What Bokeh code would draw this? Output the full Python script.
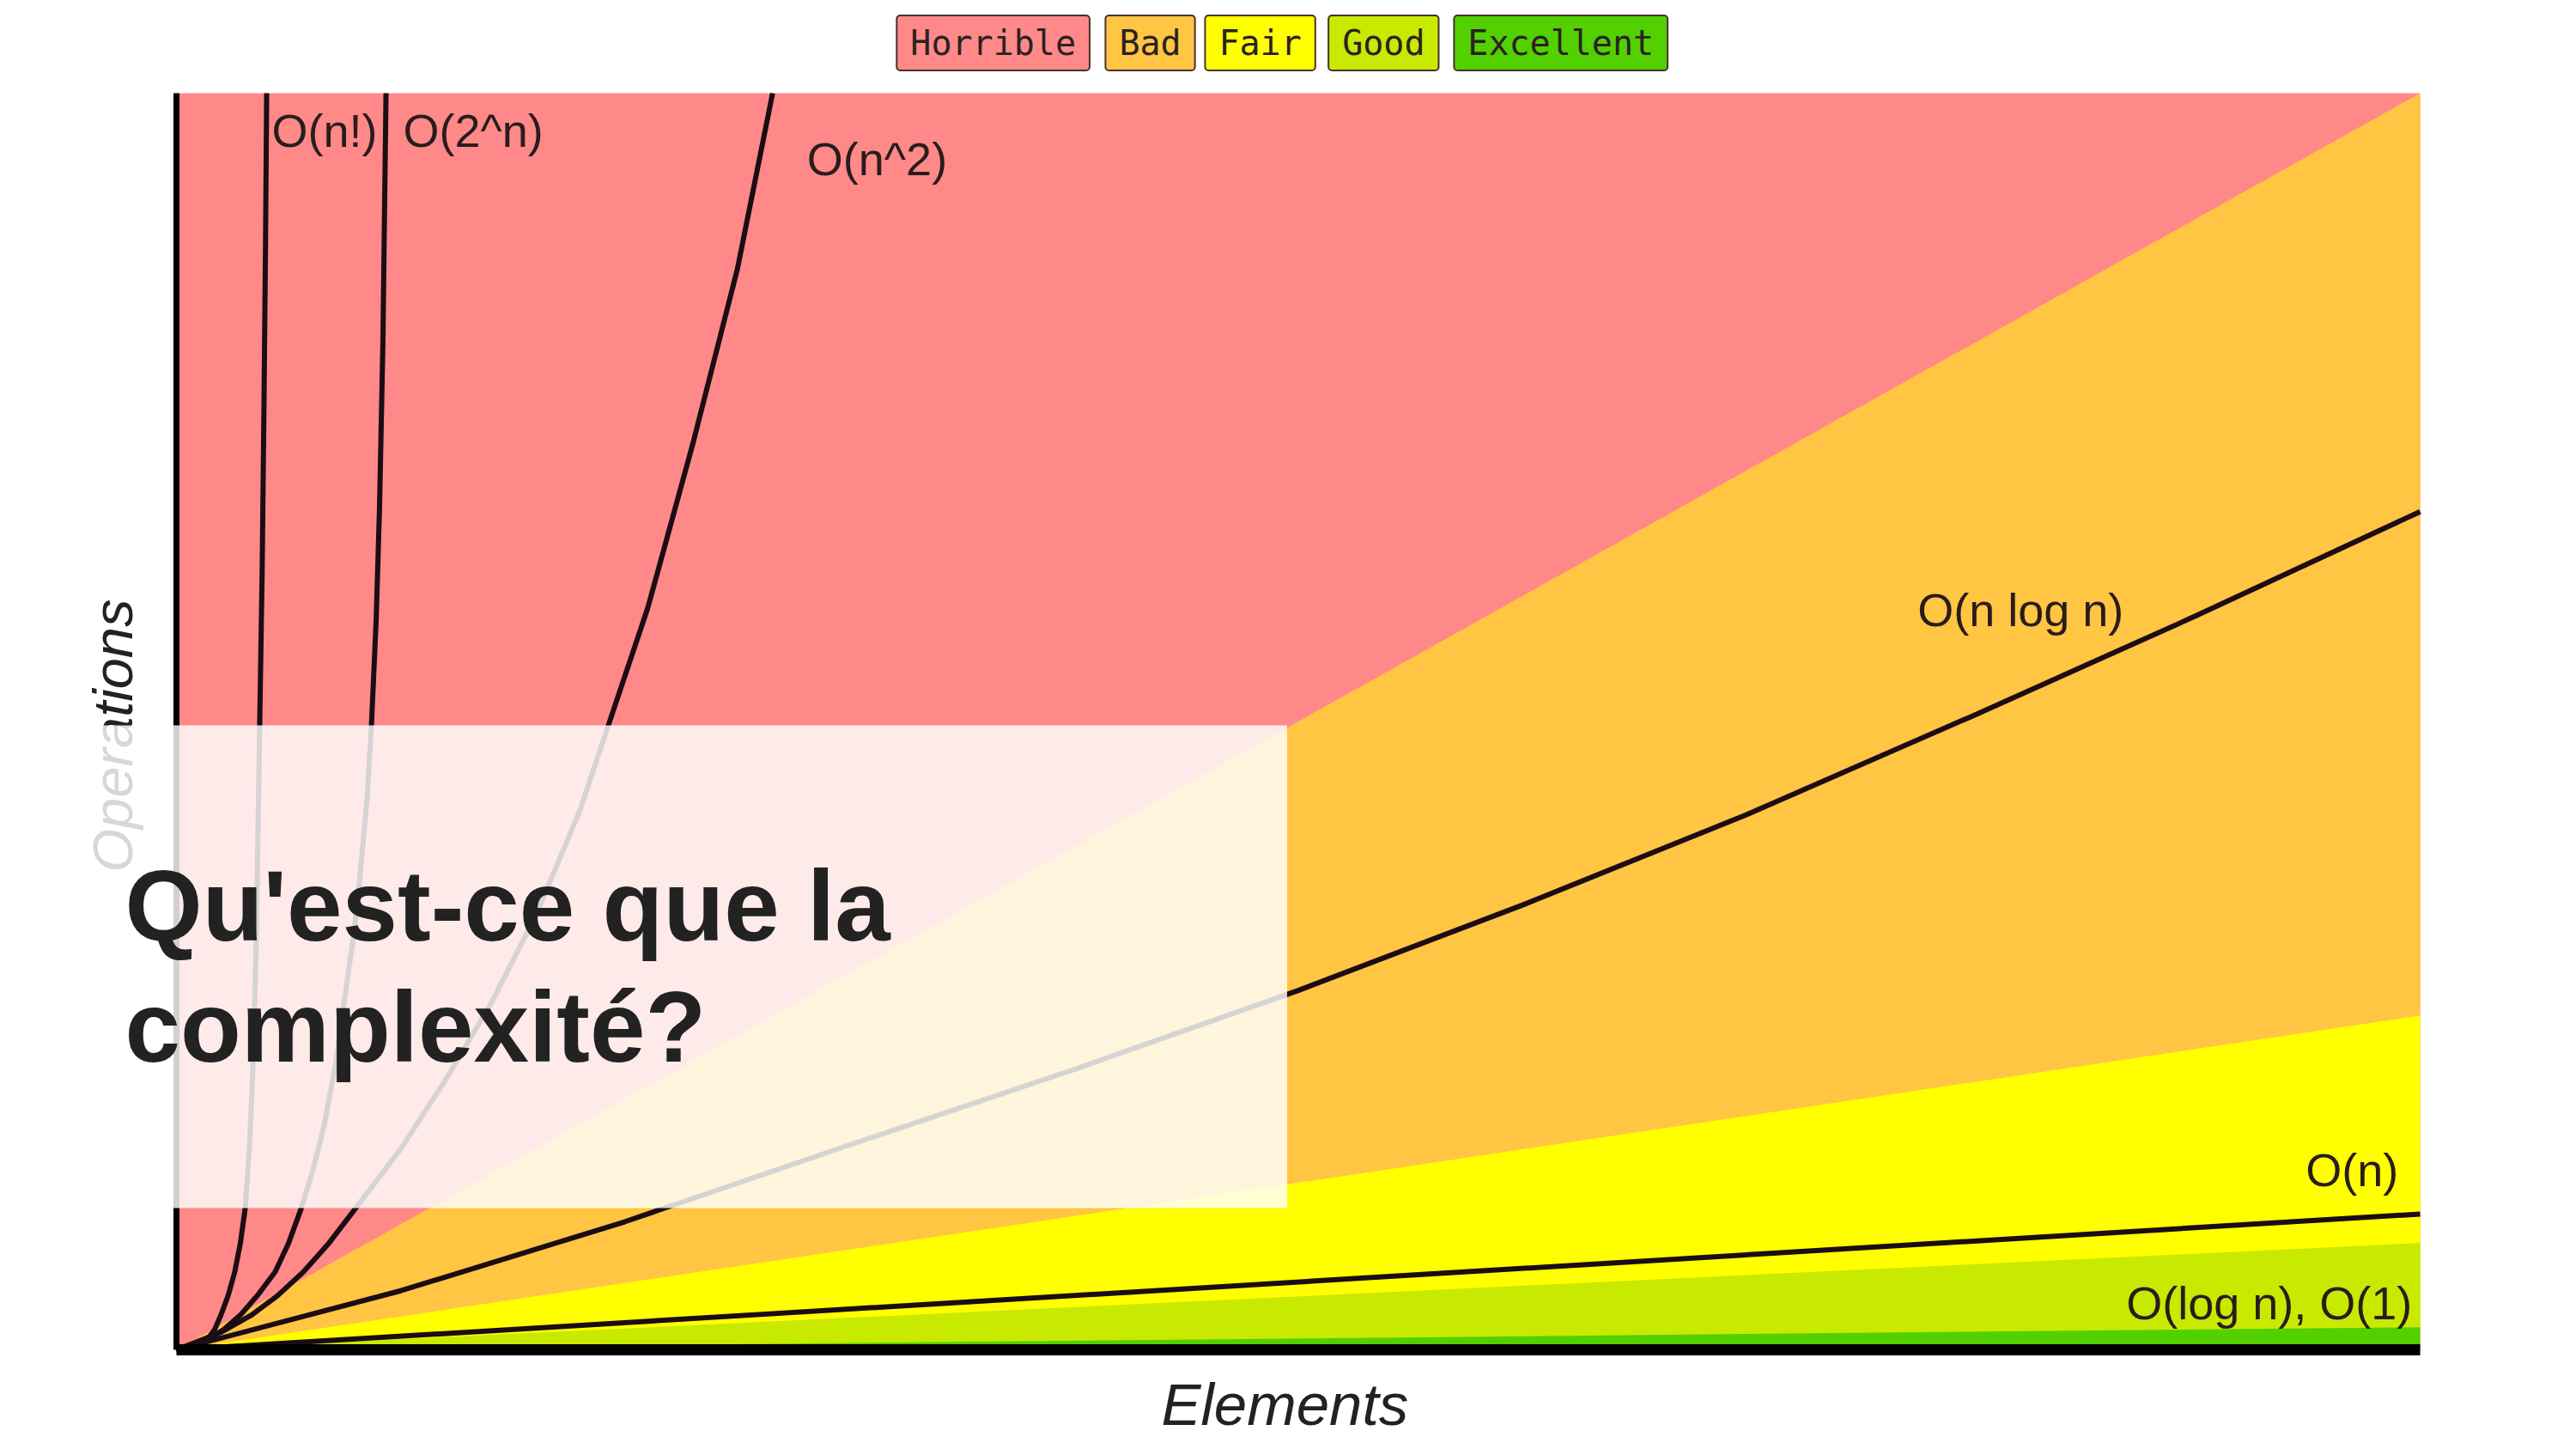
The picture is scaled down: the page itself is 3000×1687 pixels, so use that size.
import math
from bokeh.plotting import figure
from bokeh.models import Label, BoxAnnotation, Range1d
from bokeh.core.properties import value
from bokeh.embed import file_html
from bokeh.resources import INLINE

# ---------------- data (Elements 0..100, Operations 0..100) ----------------
region_x = [0, 100]
region_floor = [0, 0]
horrible_top = [100, 100]
bad_top = [0, 100]
fair_top = [0, 26.6]
good_top = [0, 8.5]
excellent_top = [0, 1.8]

factorial_x = [0, 0.5, 1.0, 1.34, 1.7, 1.99, 2.3, 2.6, 2.85, 3.06, 3.25, 3.4, 3.55, 3.71, 3.82, 3.9, 3.97, 4.02]
factorial_y = [0, 0.15, 0.4, 0.75, 1.6, 2.8, 4.3, 6.2, 8.5, 11.2, 16, 22, 32, 49.7, 62, 75, 88, 100]

exponential_x = [0, 0.6, 1.34, 2.1, 2.87, 3.6, 4.4, 5.0, 5.55, 6.1, 6.6, 7.1, 7.5, 7.9, 8.2, 8.5, 8.69, 8.9, 9.05, 9.2, 9.34]
exponential_y = [0, 0.3, 0.75, 1.6, 2.8, 4.3, 6.2, 8.5, 11.2, 14.4, 18, 22.8, 28, 33, 38, 44, 49.7, 58, 67, 80, 100]

quadratic_x = [0, 2, 3.37, 4.5, 5.66, 6.8, 7.96, 10, 12, 14, 16, 18, 19.25, 21, 23, 25, 26.57]
quadratic_y = [0, 1.4, 2.8, 4.3, 6.2, 8.5, 11.2, 16, 21.5, 27.5, 34.5, 43, 49.7, 59, 72, 86, 100]

nlogn_x = [0, 10, 20, 30, 40, 50, 60, 70, 80, 90, 100]
nlogn_y = [0, 4.7, 10.2, 16.3, 22.3, 28.6, 35.4, 42.6, 50.4, 58.4, 66.7]

linear_x = [0, 100]
linear_y = [0, 10.8]

curve_names = ["O(n!)", "O(2^n)", "O(n^2)", "O(n log n)", "O(n)", "O(log n), O(1)"]
curve_label_x = [4.25, 10.1, 28.1, 77.6, 94.9, 86.9]
curve_label_y = [97.0, 97.0, 94.8, 58.9, 14.3, 3.7]

legend_names = ["Horrible", "Bad", "Fair", "Good", "Excellent"]
legend_colors = ["#FF8989", "#FFC543", "#FFFF00", "#C8EA00", "#53D000"]
legend_x = [36.4, 43.4, 48.3, 53.8, 61.7]
legend_y = 104.0

axis_x = [0, 100]
axis_y = [0, 100]
axis_zero = [0, 0]

title_lines = ["Qu'est-ce que la", "complexité?"]

# ---------------- figure: frame covers the whole canvas ----------------
W, H = 2992, 1679
X0, X1 = 205.0, 2818.0      # pixel of Elements 0 / 100
Y0, Y1 = 1571.0, 108.0      # pixel of Operations 0 / 100
sx = (X1 - X0) / 100.0
sy = (Y0 - Y1) / 100.0
x_range = Range1d(-X0 / sx, (W - X0) / sx)
y_range = Range1d(-(H - Y0) / sy, Y0 / sy)

p = figure(width=W, height=H, x_range=x_range, y_range=y_range,
           output_backend="svg", toolbar_location=None,
           x_axis_location=None, y_axis_location=None,
           min_border=0)
p.xgrid.visible = False
p.ygrid.visible = False
p.outline_line_color = None
p.background_fill_color = "white"
p.border_fill_color = "white"

region_tops = [horrible_top, bad_top, fair_top, good_top, excellent_top]
for top, col in zip(region_tops, legend_colors):
    p.varea(x=region_x, y1=region_floor, y2=top, fill_color=col)

curve_color = "#1c0c14"
for xs, ys in ((factorial_x, factorial_y), (exponential_x, exponential_y),
               (quadratic_x, quadratic_y), (nlogn_x, nlogn_y), (linear_x, linear_y)):
    p.line(xs, ys, line_color=curve_color, line_width=6, line_join="round")

# axes lines
p.line(axis_zero, axis_y, line_color="black", line_width=7)
p.line(axis_x, axis_zero, line_color="black", line_width=13)

p.text(x=curve_label_x, y=curve_label_y, text=curve_names,
       text_font=value("Liberation Sans"), text_font_size="54px",
       text_color="#2a1c1c", text_align="left", text_baseline="alphabetic")

# axis titles
p.text(x=[49.4], y=[-4.4], text=["Elements"], text_font=value("Liberation Sans"),
       text_font_style="italic", text_font_size="69px", text_color="#222222",
       text_align="center", text_baseline="alphabetic")
p.text(x=[-2.83], y=[48.87], text=["Operations"], text_font=value("Liberation Sans"),
       text_font_style="italic", text_font_size="65px", text_color="#222222",
       text_align="center", text_baseline="middle", angle=math.pi / 2)

for name, col, lx in zip(legend_names, legend_colors, legend_x):
    p.add_layout(Label(x=lx, y=legend_y, text=name, text_font="DejaVu Sans Mono",
                       text_font_size="40px", text_color="#2a2222",
                       text_align="center", text_baseline="middle",
                       background_fill_color=col, border_line_color="#4a3030",
                       border_line_width=2, border_radius=4,
                       padding=dict(left=16, right=16, top=9, bottom=9)))

p.add_layout(BoxAnnotation(right=49.5, bottom=11.28, top=49.7,
                           fill_color="white", fill_alpha=0.82, line_color=None))

for txt, ty in zip(title_lines, [35.3, 25.7]):
    p.add_layout(Label(x=-2.3, y=ty, text=txt, text_font="Liberation Sans",
                       text_font_style="bold", text_font_size="116px",
                       text_color="#222222", text_align="left",
                       text_baseline="alphabetic", level="overlay"))

open("out.html", "w").write(file_html(p, INLINE))
